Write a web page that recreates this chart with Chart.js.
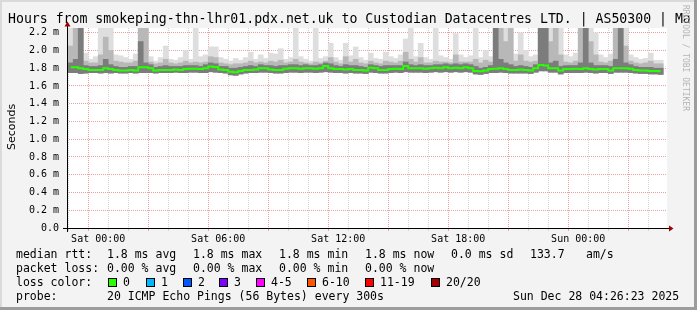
<!DOCTYPE html>
<html lang="en">
<head>
<meta charset="UTF-8">
<title>SmokePing - Custodian Datacentres LTD.</title>
<script src="https://cdn.jsdelivr.net/npm/chart.js"></script>
<style>
  body { margin: 0; background: #f3f3f3; }
  canvas { display: block; }
</style>
</head>
<body>
<canvas id="graph" width="697" height="310"></canvas>
<script>
// time axis in hours relative to Sat 00:00 (graph ends Sun 04:26:23)
const rangeStart = -1.56;
const rangeEnd = 28.44;
// 15 minute slots, first one starts Fri 22:30
const slotStart = -90;
const slotMinutes = 15;

// median rtt in ms, one per slot
const medianRtt = [
  1.81,1.81,1.80,1.79,1.78,1.78,1.78,1.80,1.79,1.78,
  1.775,1.775,1.78,1.775,1.81,1.81,1.80,1.775,1.78,1.78,
  1.78,1.785,1.78,1.79,1.795,1.795,1.79,1.80,1.82,1.815,
  1.785,1.78,1.76,1.755,1.77,1.78,1.78,1.785,1.80,1.80,
  1.785,1.78,1.78,1.795,1.80,1.80,1.795,1.80,1.80,1.795,
  1.80,1.825,1.80,1.79,1.79,1.785,1.79,1.78,1.78,1.775,
  1.805,1.80,1.78,1.78,1.79,1.795,1.79,1.825,1.80,1.80,
  1.80,1.795,1.80,1.805,1.80,1.81,1.80,1.805,1.80,1.81,
  1.80,1.77,1.765,1.775,1.79,1.795,1.80,1.79,1.78,1.78,
  1.785,1.78,1.775,1.80,1.835,1.83,1.80,1.80,1.775,1.79,
  1.79,1.795,1.79,1.80,1.79,1.785,1.79,1.79,1.775,1.80,
  1.80,1.80,1.795,1.78,1.775,1.775,1.77,1.77,1.765
];
// bottom of the smoke (fastest pings)
const smokeLow = [
  1.75,1.75,1.74,1.745,1.75,1.75,1.745,1.75,1.745,1.75,
  1.745,1.745,1.75,1.745,1.75,1.75,1.75,1.745,1.75,1.75,
  1.75,1.755,1.75,1.75,1.755,1.755,1.75,1.75,1.76,1.755,
  1.75,1.745,1.725,1.72,1.735,1.745,1.75,1.75,1.755,1.755,
  1.75,1.745,1.745,1.75,1.755,1.755,1.75,1.755,1.755,1.75,
  1.755,1.76,1.755,1.75,1.75,1.745,1.75,1.745,1.745,1.74,
  1.755,1.75,1.745,1.745,1.75,1.755,1.75,1.76,1.755,1.755,
  1.755,1.75,1.755,1.76,1.755,1.76,1.755,1.76,1.755,1.76,
  1.755,1.735,1.73,1.74,1.75,1.75,1.755,1.75,1.745,1.745,
  1.745,1.745,1.74,1.755,1.77,1.77,1.755,1.755,1.735,1.75,
  1.75,1.75,1.75,1.755,1.75,1.745,1.75,1.75,1.74,1.755,
  1.755,1.755,1.75,1.745,1.74,1.74,1.735,1.735,1.73
];
// top of the dense (dark) smoke
const smokeDark = [
  1.86,1.90,2.25,1.83,1.82,1.82,1.83,1.90,1.84,1.82,
  1.81,1.81,1.82,1.82,2.10,1.86,1.84,1.81,1.82,1.83,
  1.82,1.82,1.82,1.83,1.83,1.83,1.82,1.84,1.86,1.85,
  1.82,1.82,1.80,1.80,1.81,1.82,1.83,1.82,1.84,1.83,
  1.83,1.82,1.83,1.83,1.84,1.84,1.83,1.84,1.83,1.83,
  1.84,1.86,1.85,1.83,1.82,1.84,1.83,1.83,1.82,1.81,
  1.84,1.83,1.82,1.83,1.83,1.83,1.83,1.87,1.84,1.83,
  1.84,1.83,1.83,1.84,1.84,1.85,1.84,1.85,1.84,1.85,
  1.84,1.82,1.80,1.81,1.83,2.25,1.90,1.86,1.84,1.82,
  1.83,1.82,1.81,1.84,2.25,2.25,1.86,1.88,1.82,1.83,
  1.83,1.83,1.86,2.25,1.86,1.83,1.83,1.83,1.82,1.90,
  2.25,1.86,1.84,1.82,1.81,1.81,1.81,1.80,1.80
];
// top of the medium smoke
const smokeMid = [
  2.05,2.25,2.25,1.88,1.86,1.86,1.95,2.15,2.00,1.88,
  1.87,1.86,1.86,1.88,2.25,2.25,1.87,1.85,1.86,1.90,
  1.86,1.85,1.86,1.88,1.86,1.87,1.86,1.87,1.93,1.92,
  1.86,1.85,1.84,1.85,1.85,1.86,1.88,1.86,1.87,1.86,
  1.88,1.87,1.89,1.86,1.87,1.90,1.87,1.86,1.85,1.87,
  1.86,1.88,1.92,1.87,1.85,1.93,1.87,1.90,1.86,1.85,
  1.88,1.86,1.85,1.88,1.87,1.86,1.88,1.98,1.90,1.87,
  1.92,1.86,1.86,1.88,1.87,1.87,1.86,1.95,1.87,1.87,
  1.87,1.90,1.86,1.89,1.87,2.25,2.25,2.10,2.25,1.88,
  1.95,1.88,1.87,1.88,2.25,2.25,2.10,2.25,1.95,1.87,
  1.86,1.88,2.25,2.25,2.10,1.95,1.87,1.86,1.88,2.25,
  2.25,2.05,1.88,1.86,1.85,1.86,1.88,1.85,1.85
];
// top of the light smoke (slowest pings)
const smokeHigh = [
  2.25,2.25,2.25,1.97,1.90,1.93,2.25,2.25,2.25,1.95,
  1.94,1.92,1.90,1.96,2.25,2.25,1.93,1.88,1.92,2.05,
  1.90,1.89,1.92,2.00,1.90,2.25,1.93,1.95,2.04,2.04,
  1.92,1.90,1.88,1.91,1.89,1.92,1.98,1.90,1.95,1.91,
  1.97,1.96,2.02,1.90,1.92,2.25,1.93,1.90,1.88,2.25,
  1.91,1.93,2.08,1.92,1.89,2.08,1.94,2.04,1.92,1.89,
  1.97,1.91,1.90,1.98,1.93,1.91,1.95,2.13,2.25,1.93,
  2.08,1.92,1.90,2.25,1.94,1.92,1.90,2.19,1.95,1.92,
  1.94,2.25,1.92,2.00,1.93,2.25,2.25,2.25,2.25,1.96,
  2.20,2.00,1.93,1.95,2.25,2.25,2.25,2.25,2.25,1.95,
  1.93,1.97,2.25,2.25,2.25,2.20,1.95,1.92,1.96,2.25,
  2.25,2.25,1.95,1.92,1.90,1.91,1.97,1.89,1.89
];

const xLabelHours = [0, 6, 12, 18, 24];
const xLabels = ['Sat 00:00', 'Sat 06:00', 'Sat 12:00', 'Sat 18:00', 'Sun 00:00'];

const lossLabels = ['0', '1', '2', '3', '4-5', '6-10', '11-19', '20/20'];
const lossColors = ['#26ff00', '#00b8ff', '#0059ff', '#7e00ff', '#ff00ff', '#ff5500', '#ff0000', '#a10000'];

const slotX = medianRtt.map((v, i) => (slotStart + slotMinutes * (i + 0.5)) / 60);
const band = (top) => top.map((t, i) => ({ x: slotX[i], y: [smokeLow[i], t] }));

const MONO = '"DejaVu Sans Mono", monospace';
const RED = '#eba0a0';
const GRAY = '#d4d4d4';

const smokePage = {
  id: 'smokePage',
  beforeDraw(chart) {
    const c = chart.ctx, a = chart.chartArea;
    c.save();
    c.fillStyle = '#f3f3f3';
    c.fillRect(0, 0, chart.width, chart.height);
    // frame
    c.fillStyle = '#dadada';
    c.fillRect(0, 0, chart.width, 2);
    c.fillRect(0, 0, 2, chart.height);
    c.fillStyle = '#9c9c9c';
    c.fillRect(0, chart.height - 3, chart.width, 3);
    c.fillRect(chart.width - 3, 0, 3, chart.height);
    c.fillStyle = '#ffffff';
    c.fillRect(a.left, a.top, a.right - a.left, a.bottom - a.top);
    c.restore();
  },
  afterDraw(chart) {
    const c = chart.ctx, a = chart.chartArea;
    c.save();
    // axes with arrows
    c.strokeStyle = '#000';
    c.lineWidth = 1;
    c.beginPath();
    c.moveTo(a.left - 4, a.bottom + 0.5);
    c.lineTo(a.right + 4, a.bottom + 0.5);
    c.moveTo(a.left + 0.5, a.bottom + 4);
    c.lineTo(a.left + 0.5, a.top - 3);
    c.stroke();
    c.fillStyle = '#9b0000';
    c.beginPath();
    c.moveTo(a.left + 0.5, a.top - 6.5);
    c.lineTo(a.left - 2.5, a.top - 1.5);
    c.lineTo(a.left + 3.5, a.top - 1.5);
    c.closePath();
    c.fill();
    c.beginPath();
    c.moveTo(a.right + 6.5, a.bottom + 0.5);
    c.lineTo(a.right + 2, a.bottom - 2.5);
    c.lineTo(a.right + 2, a.bottom + 3.5);
    c.closePath();
    c.fill();

    // title
    c.fillStyle = '#000';
    c.textBaseline = 'alphabetic';
    c.font = '13.2px ' + MONO;
    c.fillText('Hours from smokeping-thn-lhr01.pdx.net.uk to Custodian Datacentres LTD. | AS50300 | Ma', 8, 23);

    // y axis title
    c.save();
    c.translate(15, 127);
    c.rotate(-Math.PI / 2);
    c.font = '11px "DejaVu Sans", sans-serif';
    c.textAlign = 'center';
    c.fillText('Seconds', 0, 0);
    c.restore();

    // watermark
    c.save();
    c.translate(683, 5);
    c.rotate(Math.PI / 2);
    c.font = '8px ' + MONO;
    c.fillStyle = '#b4b4b4';
    c.fillText('RRDTOOL / TOBI OETIKER', 0, 0);
    c.restore();

    // legend
    c.font = '11.5px ' + MONO;
    const row = (y, parts) => parts.forEach(([x, t]) => c.fillText(t, x, y));
    row(258, [[16, 'median rtt:'], [107, '1.8 ms avg'], [193, '1.8 ms max'], [279, '1.8 ms min'],
      [365, '1.8 ms now'], [451, '0.0 ms sd'], [530, '133.7'], [586, 'am/s']]);
    row(272, [[16, 'packet loss:'], [107, '0.00 % avg'], [193, '0.00 % max'], [279, '0.00 % min'],
      [365, '0.00 % now']]);
    row(286, [[16, 'loss color:']]);
    const boxX = [108, 146, 183, 219, 256, 307, 365, 431];
    lossLabels.forEach((l, i) => {
      c.fillStyle = lossColors[i];
      c.fillRect(boxX[i], 278, 8, 8);
      c.strokeStyle = '#000';
      c.strokeRect(boxX[i] + 0.5, 278.5, 8, 8);
      c.fillStyle = '#000';
      c.fillText(l, boxX[i] + 15, 286);
    });
    row(300, [[16, 'probe:'], [107, '20 ICMP Echo Pings (56 Bytes) every 300s'], [513, 'Sun Dec 28 04:26:23 2025']]);
    c.restore();
  }
};

const barOpts = { type: 'bar', grouped: false, barPercentage: 1, categoryPercentage: 1, borderWidth: 0 };

new Chart(document.getElementById('graph'), {
  type: 'bar',
  data: {
    datasets: [
      { type: 'line', label: 'median rtt', data: medianRtt.map((v, i) => ({ x: slotX[i], y: v })),
        borderColor: '#26ff00', borderWidth: 2, pointRadius: 0, stepped: 'middle', order: 0 },
      { ...barOpts, label: 'dark', data: band(smokeDark), backgroundColor: '#7c7c7c', order: 1 },
      { ...barOpts, label: 'mid', data: band(smokeMid), backgroundColor: '#b8b8b8', order: 2 },
      { ...barOpts, label: 'light', data: band(smokeHigh), backgroundColor: '#dedede', order: 3 }
    ]
  },
  options: {
    responsive: false,
    animation: false,
    devicePixelRatio: 1,
    layout: { padding: { top: 28, right: 30, left: 0, bottom: 0 } },
    plugins: { legend: { display: false }, tooltip: { enabled: false } },
    scales: {
      x: {
        type: 'linear', min: rangeStart, max: rangeEnd, offset: false, z: 1,
        afterFit: (s) => { s.height = 82; },
        afterBuildTicks: (s) => {
          const t = [];
          for (let h = Math.ceil(rangeStart); h <= rangeEnd; h++) t.push({ value: h });
          s.ticks = t;
        },
        grid: {
          color: (ctx) => (ctx.tick && ctx.tick.value % 3 === 0 ? RED : GRAY),
          tickColor: (ctx) => (ctx.tick && ctx.tick.value % 3 === 0 ? RED : GRAY),
          tickLength: 3
        },
        border: { display: false, dash: [1, 1] },
        ticks: {
          autoSkip: false, maxRotation: 0, padding: 2, color: '#000',
          font: { family: MONO, size: 10 },
          callback: (v) => { const k = xLabelHours.indexOf(v); return k < 0 ? '' : xLabels[k]; }
        }
      },
      y: {
        min: 0, max: 2.253, z: 1,
        afterFit: (s) => { s.width = 67; },
        grid: {
          color: (ctx) => (ctx.tick && Math.round(ctx.tick.value * 10) % 2 === 0 ? RED : GRAY),
          tickColor: 'rgba(0,0,0,0)',
          tickLength: 4
        },
        border: { display: false, dash: [1, 1] },
        ticks: {
          stepSize: 0.1, includeBounds: false, padding: 4, color: '#000',
          font: { family: MONO, size: 10 },
          callback: (v) => {
            const n = Math.round(v * 10);
            if (n % 2) return '';
            return n === 0 ? '0.0' : (n / 10).toFixed(1) + ' m';
          }
        }
      }
    }
  },
  plugins: [smokePage]
});
</script>
</body>
</html>
